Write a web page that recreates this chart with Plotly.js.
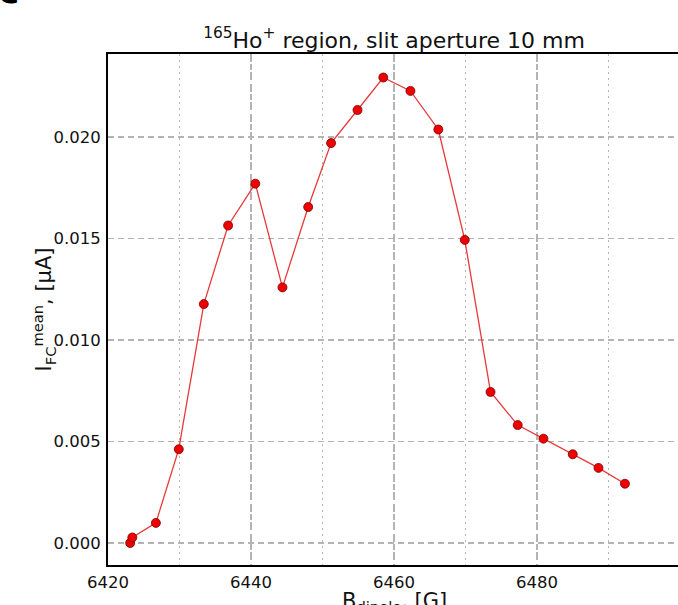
<!DOCTYPE html>
<html>
<head>
<meta charset="utf-8">
<script src="https://cdn.plot.ly/plotly-3.0.1.min.js"></script>
<style>
html, body { margin: 0; padding: 0; overflow: hidden; background: #fff; }
#chart { width: 690px; height: 605px; }
</style>
</head>
<body>
<div id="chart"></div>
<script>
// Data
const bDipole = [6423.1, 6423.4, 6426.7, 6429.9, 6433.4, 6436.8, 6440.6, 6444.4, 6448.0, 6451.2, 6454.9,
                 6458.5, 6462.3, 6466.2, 6469.9, 6473.5, 6477.3, 6480.9, 6485.0, 6488.6, 6492.3];
const iFcMean = [0.0000, 0.00027, 0.00099, 0.00462, 0.01177, 0.01564, 0.01770, 0.01259, 0.01655, 0.01970, 0.02133,
                 0.02293, 0.02227, 0.02037, 0.01493, 0.00744, 0.00581, 0.00514, 0.00437, 0.00370, 0.00292];
const xTickVals = [6420, 6440, 6460, 6480, 6500];
const xTickText = ['6420', '6440', '6460', '6480', ''];
const yTickVals = [0.000, 0.005, 0.010, 0.015, 0.020];
const yTickText = ['0.000', '0.005', '0.010', '0.015', '0.020'];

const FONT = 'DejaVu Sans, sans-serif';
const GRID = '#b4b4b4';

const trace = {
  x: bDipole,
  y: iFcMean,
  type: 'scatter',
  mode: 'lines+markers',
  line: { color: '#e8393a', width: 1.3 },
  marker: { color: '#ee0000', size: 9, line: { color: '#7a0000', width: 0.8 } },
  hoverinfo: 'skip'
};

const layout = {
  width: 690,
  height: 605,
  margin: { l: 108, r: 10, t: 54, b: 40 },
  paper_bgcolor: '#ffffff',
  plot_bgcolor: '#ffffff',
  showlegend: false,
  font: { family: FONT, size: 16, color: '#111' },
  title: {
    text: '<sup>165</sup>Ho<sup>+</sup> region, slit aperture 10 mm',
    font: { family: FONT, size: 22, color: '#111' },
    x: 0.5, xref: 'paper', xanchor: 'center',
    y: 1 - 40 / 605, yanchor: 'middle'
  },
  xaxis: {
    range: [6420, 6500],
    tickvals: xTickVals,
    ticktext: xTickText,
    ticks: '',
    showline: true, mirror: true, linecolor: '#000', linewidth: 2,
    showgrid: true, gridcolor: GRID, gridwidth: 1.3, griddash: '6px,4px',
    minor: { dtick: 10, tick0: 6410, showgrid: true, gridcolor: GRID, gridwidth: 1.3, griddash: '2px,4px', ticks: '' },
    zeroline: false,
    tickfont: { family: FONT, size: 16.5, color: '#111' },
    ticklabelstandoff: 1
  },
  yaxis: {
    range: [-0.001084, 0.024089],
    tickvals: yTickVals,
    ticktext: yTickText,
    ticks: '',
    showline: true, mirror: true, linecolor: '#000', linewidth: 2,
    showgrid: true, gridcolor: GRID, gridwidth: 1.3, griddash: '6px,4px',
    zeroline: false,
    tickfont: { family: FONT, size: 16.5, color: '#111' },
    ticklabelstandoff: 2
  },
  annotations: [
    {
      text: 'B<sub>dipole</sub>, [G]',
      xref: 'paper', yref: 'paper', x: 0.5, y: 0,
      xanchor: 'center', yanchor: 'top', yshift: -22,
      showarrow: false,
      font: { family: FONT, size: 21, color: '#111' }
    },
    {
      text: 'I<sub>FC</sub><sup>mean</sup>, [μA]',
      xref: 'paper', yref: 'paper', x: 0, y: 0.5,
      xanchor: 'center', yanchor: 'middle', xshift: -65,
      textangle: -90,
      showarrow: false,
      font: { family: FONT, size: 21, color: '#111' }
    },
    {
      text: '<b>c</b>',
      xref: 'paper', yref: 'paper', x: 0, y: 1,
      xanchor: 'center', yanchor: 'bottom', xshift: -100, yshift: 41,
      showarrow: false,
      font: { family: FONT, size: 36, color: '#000' }
    }
  ]
};

Plotly.newPlot('chart', [trace], layout, { displayModeBar: false, staticPlot: true });
</script>
</body>
</html>
